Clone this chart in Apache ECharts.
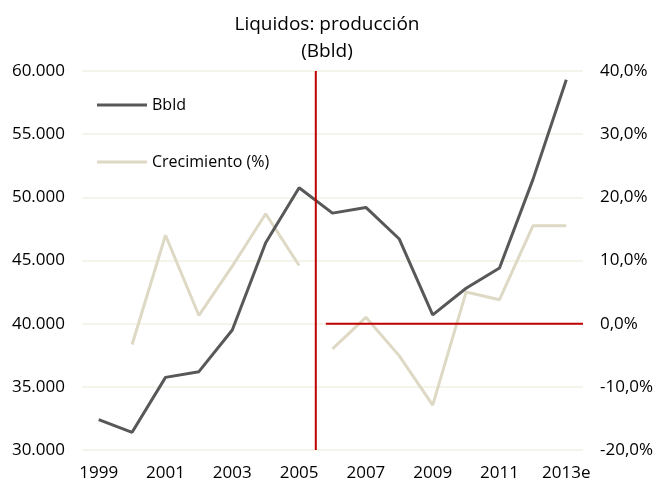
<!DOCTYPE html>
<html><head><meta charset="utf-8">
<script src="https://cdn.jsdelivr.net/npm/echarts@6/dist/echarts.min.js"></script>
<style>html,body{margin:0;padding:0;background:#fff}#c{width:654px;height:483px}</style>
</head><body><div id="c"></div>
<script>
const categories = ['1999','2000','2001','2002','2003','2004','2005','2006','2007','2008','2009','2010','2011','2012','2013e'];
const bbld = [32400, 31400, 35750, 36200, 39500, 46400, 50760, 48750, 49200, 46700, 40700, 42800, 44400, 51400, 59300];
const growthBefore = [null, -3.3, 14.0, 1.3, 9.1, 17.4, 9.2, null, null, null, null, null, null, null, null];
const growthAfter = [null, null, null, null, null, null, null, -4.0, 1.0, -5.1, -12.9, 5.0, 3.8, 15.5, 15.5];
const leftTicks = [30000, 60000, 5000];
const rightTicks = [-20, 40, 10];
const dividerIndex = 6.5;   // between 2005 and 2006
const zeroLineFrom = 6.8;

const font = 'Open Sans, Lato, sans-serif';
const chart = echarts.init(document.getElementById('c'));
const fmtLeft = v => v.toString().replace(/\B(?=(\d{3})+(?!\d))/g, '.');
const fmtRight = v => v.toFixed(1).replace('.', ',') + '%';
const n = categories.length;

chart.setOption({
  animation: false,
  title: {
    text: 'Liquidos: producción\n(Bbld)',
    left: 'center', top: 6,
    textStyle: { fontFamily: font, fontSize: 19, fontWeight: 'normal', color: '#000', lineHeight: 27 }
  },
  legend: {
    orient: 'vertical', left: 92, top: 92, itemGap: 41,
    itemWidth: 50, itemHeight: 3,
    data: [{ name: 'Bbld', icon: 'rect' }, { name: 'Crecimiento (%)', icon: 'rect' }],
    textStyle: { fontFamily: font, fontSize: 16, color: '#000' }
  },
  grid: { left: 82, right: 71, top: 71, bottom: 33, outerBoundsMode: 'none', containLabel: false },
  xAxis: [{
    type: 'category', data: categories, boundaryGap: true,
    axisLine: { show: false }, axisTick: { show: false },
    axisLabel: { interval: 1, margin: 15, fontFamily: font, fontSize: 17, color: '#000' }
  }, {
    type: 'value', min: -0.5, max: n - 0.5, show: false
  }],
  yAxis: [{
    type: 'value', min: leftTicks[0], max: leftTicks[1], interval: leftTicks[2],
    axisLine: { show: false }, axisTick: { show: false },
    axisLabel: { formatter: fmtLeft, margin: 17, fontFamily: font, fontSize: 17, color: '#000' },
    splitLine: { lineStyle: { color: '#f2f0e4', width: 1.5 } }
  }, {
    type: 'value', min: rightTicks[0], max: rightTicks[1], interval: rightTicks[2],
    axisLine: { show: false }, axisTick: { show: false },
    axisLabel: { formatter: fmtRight, margin: 17, fontFamily: font, fontSize: 17, color: '#000' },
    splitLine: { show: false }
  }],
  series: [{
    name: 'Bbld', type: 'line', data: bbld, yAxisIndex: 0,
    symbol: 'none', lineStyle: { color: '#585858', width: 3 }, itemStyle: { color: '#585858' }, z: 4
  }, {
    name: 'Crecimiento (%)', type: 'line', data: growthBefore, yAxisIndex: 1,
    symbol: 'none', lineStyle: { color: '#ddd9c4', width: 3 }, itemStyle: { color: '#ddd9c4' }, z: 3
  }, {
    name: 'Crecimiento (%)', type: 'line', data: growthAfter, yAxisIndex: 1,
    symbol: 'none', lineStyle: { color: '#ddd9c4', width: 3 }, itemStyle: { color: '#ddd9c4' }, z: 3
  }, {
    name: 'divider', type: 'line', xAxisIndex: 1, yAxisIndex: 0,
    data: [[dividerIndex, leftTicks[0]], [dividerIndex, leftTicks[1]]],
    symbol: 'none', lineStyle: { color: '#c00000', width: 2 }, z: 5, silent: true
  }, {
    name: 'zero', type: 'line', xAxisIndex: 1, yAxisIndex: 1,
    data: [[zeroLineFrom, 0], [n - 0.5, 0]],
    symbol: 'none', lineStyle: { color: '#c00000', width: 2 }, z: 5, silent: true
  }]
});
</script></body></html>
